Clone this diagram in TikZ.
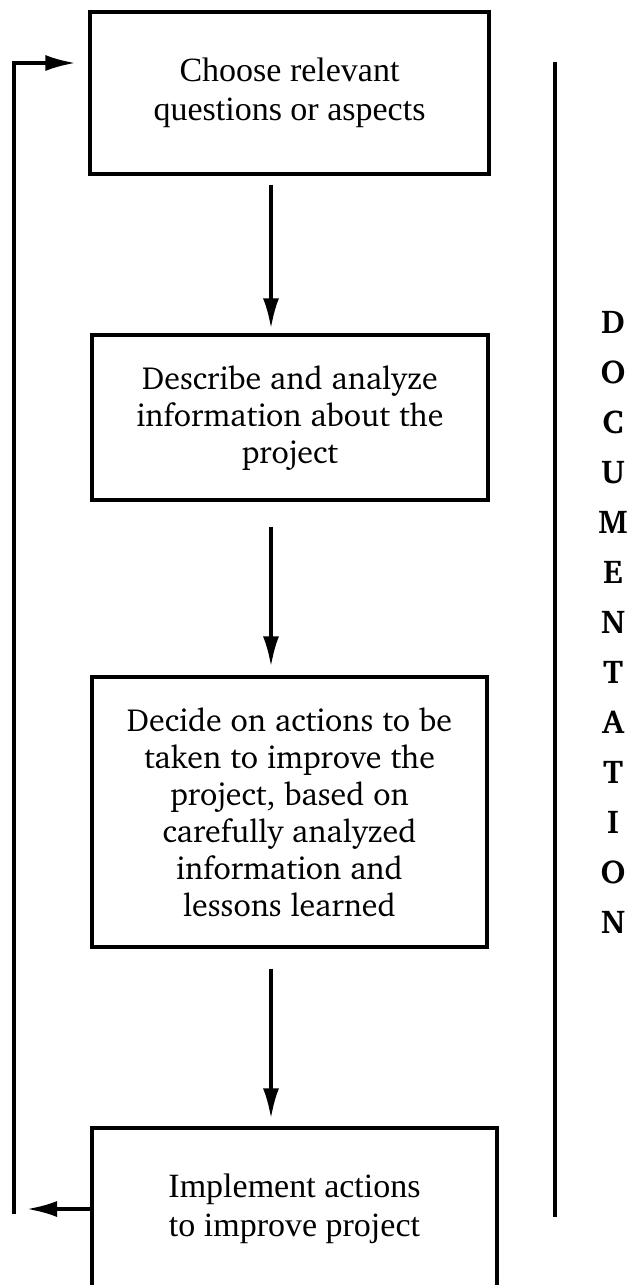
\documentclass[tikz,border=0pt]{standalone}
\usepackage[T1]{fontenc}
\usepackage{fontspec}
\setmainfont{Liberation Serif}
\usetikzlibrary{arrows.meta,calc}

% Charter for the middle boxes and the side word
\newcommand{\charterfont}{\fontencoding{T1}\fontfamily{bch}\selectfont}

\begin{document}
\begin{tikzpicture}[
        x=0.5pt, y=-0.5pt,
        line width=1.6pt,
        stage/.style={draw, align=center, inner sep=0pt},
        plain/.style={font=\fontsize{17}{19.5}\selectfont},
        chart/.style={font=\charterfont\fontsize{16}{18.5}\selectfont},
        letter/.style={font=\charterfont\bfseries\fontsize{16.5}{18}\selectfont},
        flow/.style={-{Latex[length=15pt,width=8pt]}}
    ]
    \clip (0,0) rectangle (641,1285);

    % the four steps
    \node[stage,plain,minimum width=199.5pt,minimum height=81pt] (choose) at (289.5,93)
        {Choose relevant\\questions or aspects};
    \node[stage,chart,minimum width=198pt,minimum height=82.5pt] (describe) at (290,417.5)
        {Describe and analyze\\information about the\\project};
    \node[stage,chart,minimum width=197.5pt,minimum height=135pt] (decide) at (289.5,812)
        {Decide on actions to be\\taken to improve the\\project, based on\\carefully analyzed\\information and\\lessons learned};
    \node[stage,plain,minimum width=202.5pt,minimum height=81pt] (implement) at (294.5,1209)
        {Implement actions\\to improve project};

    % downward arrows
    \coordinate (col) at (271,0);
    \draw[flow, shorten <=4.5pt, shorten >=2.5pt] (choose.south -| col) -- (describe.north -| col);
    \draw[flow, shorten <=12.5pt, shorten >=4.5pt] (describe.south -| col) -- (decide.north -| col);
    \draw[flow, shorten <=10pt, shorten >=4pt] (decide.south -| col) -- (implement.north -| col);

    % feedback loop on the left
    \coordinate (looptop) at (14,63);
    \coordinate (loopbot) at (14,1214);
    \draw[flow, shorten >=6.5pt] (loopbot) -- (looptop) -- (looptop -| choose.west);
    \draw[flow, shorten >=6.5pt] (implement.west) -- (implement.west -| loopbot);

    % documentation bar
    \coordinate (doctop) at (555,62);
    \coordinate (docbot) at (555,1217);
    \draw (doctop) -- (docbot);
    \foreach \ch [count=\i] in {D,O,C,U,M,E,N,T,A,T,I,O,N}
        \node[letter] (doc\i) at (613,{272+50*\i}) {\ch};
\end{tikzpicture}
\end{document}
